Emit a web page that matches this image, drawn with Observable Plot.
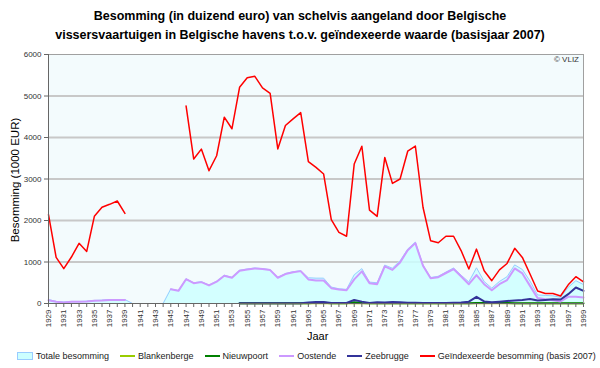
<!DOCTYPE html>
<html>
<head>
<meta charset="utf-8">
<script src="https://cdn.jsdelivr.net/npm/d3@7"></script>
<script src="https://cdn.jsdelivr.net/npm/@observablehq/plot@0.6"></script>
<style>
  html, body { margin: 0; padding: 0; background: #ffffff; }
  #wrap { position: relative; width: 600px; height: 368px; font-family: "Liberation Sans", Arial, sans-serif; overflow: hidden; }
  #wrap svg { position: absolute; left: 0; top: 0; }
  #title { position: absolute; left: 0; top: 7px; width: 600px; text-align: center; font-weight: bold; font-size: 12.5px; line-height: 19px; color: #000; }
  #ylab { position: absolute; left: 15px; top: 180px; transform: translate(-50%, -50%) rotate(-90deg); white-space: nowrap; font-size: 11.5px; color: #000; }
  #xlab { position: absolute; left: 307px; top: 330px; font-size: 11px; color: #000; }
  #copy { position: absolute; right: 21px; top: 55px; font-size: 8px; color: #333; }
  #legend { position: absolute; left: 17px; top: 351px; width: 590px; display: flex; justify-content: flex-start; font-size: 9px; color: #222; white-space: nowrap; }
  .item { display: flex; align-items: center; margin-right: 11px; }
  .sw-line { display: inline-block; width: 15px; height: 2px; margin-right: 3px; }
  .sw-box { display: inline-block; width: 14px; height: 6px; margin-right: 3px; background: #ccffff; border: 1px solid #99ccff; }
</style>
</head>
<body>
<div id="wrap">
  <div id="title">Besomming (in duizend euro) van schelvis aangeland door Belgische<br>vissersvaartuigen in Belgische havens t.o.v. geïndexeerde waarde (basisjaar 2007)</div>
</div>
<script>
const years = [1929,1930,1931,1932,1933,1934,1935,1936,1937,1938,1939,1940,1941,1942,1943,1944,1945,1946,1947,1948,1949,1950,1951,1952,1953,1954,1955,1956,1957,1958,1959,1960,1961,1962,1963,1964,1965,1966,1967,1968,1969,1970,1971,1972,1973,1974,1975,1976,1977,1978,1979,1980,1981,1982,1983,1984,1985,1986,1987,1988,1989,1990,1991,1992,1993,1994,1995,1996,1997,1998,1999];

const totaal = [95,50,35,50,50,55,75,80,95,95,95,0,0,0,0,0,350,310,595,500,525,445,535,680,630,800,830,855,840,815,630,720,765,790,620,610,610,395,355,340,690,840,515,500,925,850,1025,1310,1480,930,625,655,755,855,680,520,860,530,370,530,645,930,820,540,205,195,185,150,390,550,455];

const blankenberge = [null,null,null,null,null,null,null,null,null,null,null,null,null,null,null,null,null,null,null,null,null,null,null,null,null,2,2,2,2,2,2,2,2,2,2,3,3,2,2,2,3,3,2,2,2,2,2,2,2,2,2,2,2,2,2,2,3,3,3,3,3,2,2,2,2,2,2,2,2,2,2];

const nieuwpoort = [null,null,null,null,null,null,null,null,null,null,null,null,null,null,null,null,null,null,null,null,null,null,null,null,null,5,5,5,5,5,5,5,5,5,8,20,20,6,5,5,30,15,5,6,6,6,6,6,6,6,5,5,5,5,5,6,10,15,15,15,15,5,5,5,5,5,5,5,5,5,5];

const oostende = [80,40,25,45,45,50,65,70,85,85,85,null,null,null,null,null,345,305,585,490,515,435,525,670,620,790,820,845,830,805,620,710,755,780,580,555,555,370,340,320,580,775,490,465,895,810,990,1285,1455,910,610,635,735,830,650,465,685,465,320,465,565,845,725,425,130,105,80,50,160,160,145];

const zeebrugge = [null,null,null,null,null,null,null,null,null,null,null,null,null,null,null,null,null,null,null,null,null,null,null,null,null,5,5,5,5,5,5,5,5,5,25,35,35,15,10,15,85,45,15,30,25,35,30,20,20,15,10,15,15,20,25,45,160,50,30,45,60,75,85,110,70,85,100,95,225,385,305];

const geindexeerd = [2140,1110,840,1120,1450,1255,2100,2320,2390,2470,2170,null,null,null,null,null,null,null,4760,3480,3720,3200,3560,4490,4210,5210,5440,5475,5195,5065,3725,4290,4450,4600,3420,3280,3120,2020,1715,1620,3360,3790,2250,2100,3520,2895,3000,3670,3795,2320,1510,1465,1620,1620,1270,830,1310,790,550,810,965,1330,1110,710,300,240,240,180,450,645,520];

const yTicks = [0,1000,2000,3000,4000,5000,6000];
const gridVals = [1000,2000,3000,4000,5000];

const rows = years.map((y, i) => ({
  year: y, totaal: totaal[i], blankenberge: blankenberge[i], nieuwpoort: nieuwpoort[i],
  oostende: oostende[i], zeebrugge: zeebrugge[i], geindexeerd: geindexeerd[i]
}));

const series = [
  {key: "blankenberge", name: "Blankenberge", color: "#99cc00", w: 1.5},
  {key: "nieuwpoort", name: "Nieuwpoort", color: "#008000", w: 2},
  {key: "oostende", name: "Oostende", color: "#cc99ff", w: 2},
  {key: "zeebrugge", name: "Zeebrugge", color: "#333399", w: 2},
  {key: "geindexeerd", name: "Geïndexeerde besomming (basis 2007)", color: "#ff0000", w: 1.5}
];

const chart = Plot.plot({
  width: 600,
  height: 368,
  marginTop: 54,
  marginBottom: 65,
  marginLeft: 48,
  marginRight: 17,
  style: {fontFamily: "'Liberation Sans', Arial, sans-serif", fontSize: "8px", background: "transparent", color: "#333"},
  x: {domain: [1929, 1999]},
  y: {domain: [0, 6000]},
  marks: [
    Plot.frame({fill: "#f3fbfd"}),
    Plot.ruleY(gridVals, {stroke: "#c8c8c8", strokeWidth: 2}),
    Plot.areaY(rows, {x: "year", y: "totaal", fill: "#ccffff", fillOpacity: 0.85}),
    Plot.lineY(rows, {x: "year", y: "totaal", stroke: "#99ccff", strokeWidth: 1}),
    ...series.map(s => Plot.lineY(rows, {x: "year", y: s.key, stroke: s.color, strokeWidth: s.w})),
    Plot.frame({stroke: "#a0a0a0"}),
    Plot.ruleX([1929], {stroke: "#666"}),
    Plot.ruleY([0], {stroke: "#666"}),
    Plot.axisY({ticks: yTicks, tickSize: 4, tickPadding: 3, label: null, tickFormat: d => String(d), stroke: "#666"}),
    Plot.axisX({ticks: years, tickSize: 4, tickPadding: 2, tickRotate: -90, label: null, stroke: "#666",
      tickFormat: d => (d % 2 === 1 ? String(d) : "")})
  ]
});

const wrap = document.getElementById("wrap");
wrap.appendChild(chart);

const ylab = document.createElement("div"); ylab.id = "ylab"; ylab.textContent = "Besomming (1000 EUR)"; wrap.appendChild(ylab);
const xlab = document.createElement("div"); xlab.id = "xlab"; xlab.textContent = "Jaar"; wrap.appendChild(xlab);
const copy = document.createElement("div"); copy.id = "copy"; copy.textContent = "© VLIZ"; wrap.appendChild(copy);

const legend = document.createElement("div"); legend.id = "legend";
const first = document.createElement("div"); first.className = "item";
first.innerHTML = '<span class="sw-box"></span><span>Totale besomming</span>';
legend.appendChild(first);
for (const s of series) {
  const it = document.createElement("div"); it.className = "item";
  const sw = document.createElement("span"); sw.className = "sw-line"; sw.style.background = s.color;
  const t = document.createElement("span"); t.textContent = s.name;
  it.appendChild(sw); it.appendChild(t); legend.appendChild(it);
}
wrap.appendChild(legend);
</script>
</body>
</html>
